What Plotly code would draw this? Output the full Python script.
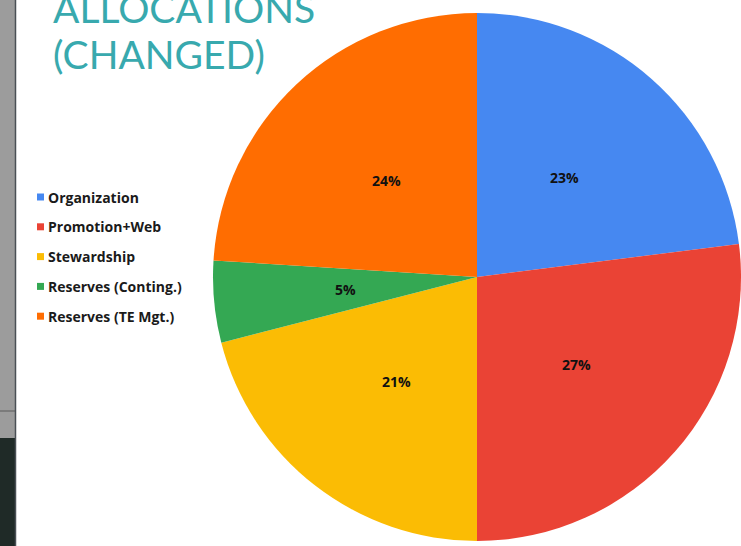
import math
import plotly.graph_objects as go

# Budget split
labels = ['Organization', 'Promotion+Web', 'Stewardship', 'Reserves (Conting.)', 'Reserves (TE Mgt.)']
shares = [23, 27, 21, 5, 24]
colors = ['#4688F1', '#EA4335', '#FBBC04', '#34A853', '#FF6D01']

W, H = 741, 546
PIE_L, PIE_R, PIE_T, PIE_B = 213, 741, 12, 542


def px_x(x):
    return x / W


def px_y(y):
    return 1 - y / H


dom_x = [px_x(PIE_L), px_x(PIE_R)]
dom_y = [px_y(PIE_B), px_y(PIE_T)]

fig = go.Figure()

fig.add_trace(go.Pie(
    labels=labels,
    values=shares,
    sort=False,
    direction='clockwise',
    rotation=0,
    marker=dict(colors=colors, line=dict(width=0)),
    textinfo='none',
    domain=dict(x=dom_x, y=dom_y),
    showlegend=False,
    hoverinfo='label+percent',
))

# empty trace so the hidden x/y axes exist
fig.add_trace(go.Scatter(x=[], y=[], showlegend=False, hoverinfo='skip'))

annotations = []

# percent labels sit halfway out along each slice's middle angle (Sheets style)
total = sum(shares)
cum = 0
for s in shares:
    a = 2 * math.pi * (cum + s / 2) / total
    annotations.append(dict(text=f'{round(100 * s / total)}%', xref='x', yref='y',
                            x=0.5 * math.sin(a), y=0.5 * math.cos(a), showarrow=False,
                            font=dict(family='Open Sans', size=14, color='#111111', weight='bold')))
    cum += s

# Legend drawn by hand so the row spacing matches the slide
shapes = []
for i, (lab, col) in enumerate(zip(labels, colors)):
    yc = 197 + i * 29.8
    shapes.append(dict(type='rect', xref='paper', yref='paper',
                       x0=px_x(37), x1=px_x(44), y0=px_y(yc + 3.5), y1=px_y(yc - 3.5),
                       fillcolor=col, line=dict(width=0)))
    annotations.append(dict(text=lab, xref='paper', yref='paper',
                            x=px_x(46), y=px_y(yc), xanchor='left', yanchor='middle',
                            showarrow=False,
                            font=dict(family='Open Sans', size=14, color='#1a1a1a', weight='bold')))

# Title, partly cut off at the top of the screenshot
annotations.append(dict(text='ALLOCATIONS', xref='paper', yref='paper',
                        x=px_x(51), y=px_y(33), xanchor='left', yanchor='bottom',
                        showarrow=False,
                        font=dict(family='Lato', size=39, color='#38A9AE')))
annotations.append(dict(text='(CHANGED)', xref='paper', yref='paper',
                        x=px_x(51), y=px_y(79), xanchor='left', yanchor='bottom',
                        showarrow=False,
                        font=dict(family='Lato', size=39, color='#38A9AE')))

# Window frame on the left edge
shapes += [
    dict(type='rect', xref='paper', yref='paper', x0=0, x1=px_x(15), y0=0, y1=1,
         fillcolor='#9c9c9c', line=dict(width=0), layer='below'),
    dict(type='rect', xref='paper', yref='paper', x0=0, x1=px_x(15), y0=0, y1=px_y(438),
         fillcolor='#1f2a27', line=dict(width=0), layer='below'),
    dict(type='line', xref='paper', yref='paper', x0=0, x1=px_x(15), y0=px_y(411), y1=px_y(411),
         line=dict(color='#5a5a5a', width=1)),
    dict(type='line', xref='paper', yref='paper', x0=px_x(15.5), x1=px_x(15.5), y0=0, y1=1,
         line=dict(color='#4a4f55', width=1.5)),
]

# hidden axes laid over the pie, one unit = pie radius
r_px = min(PIE_R - PIE_L, PIE_B - PIE_T) / 2
half_w = (PIE_R - PIE_L) / 2 / r_px
half_h = (PIE_B - PIE_T) / 2 / r_px
fig.update_layout(
    width=W, height=H,
    margin=dict(l=0, r=0, t=0, b=0),
    paper_bgcolor='white',
    plot_bgcolor='rgba(0,0,0,0)',
    xaxis=dict(domain=dom_x, range=[-half_w, half_w], visible=False, fixedrange=True),
    yaxis=dict(domain=dom_y, range=[-half_h, half_h], visible=False, fixedrange=True),
    shapes=shapes,
    annotations=annotations,
)

fig.write_html('out.html', config={'displayModeBar': False},
               post_script="document.body.style.margin='0';")
